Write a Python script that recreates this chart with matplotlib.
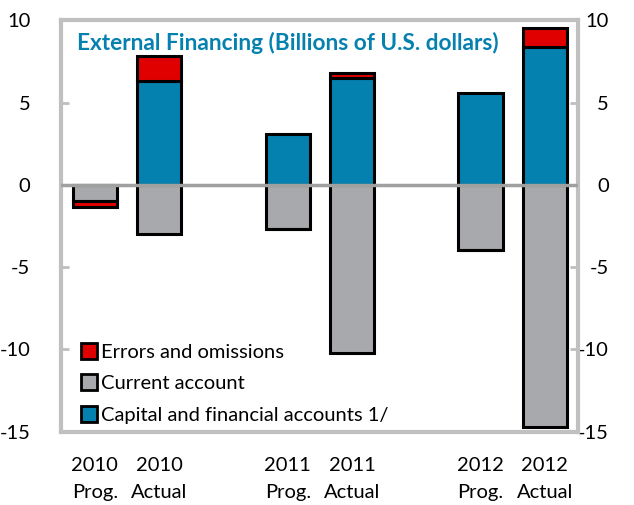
import matplotlib
matplotlib.use("Agg")
import matplotlib.pyplot as plt
from matplotlib.lines import Line2D

plt.rcParams['font.family'] = ['Lato', 'DejaVu Sans']
plt.rcParams['axes.unicode_minus'] = False

# data (billions of U.S. dollars)
labels = ["2010\nProg.", "2010\nActual", "2011\nProg.", "2011\nActual", "2012\nProg.", "2012\nActual"]
capital = [0.0, 6.3, 3.1, 6.5, 5.6, 8.4]
current = [-1.0, -3.0, -2.7, -10.2, -3.95, -14.7]
errors = [-0.35, 1.5, 0.0, 0.3, 0.0, 1.1]
xpos = [0, 1, 3, 4, 6, 7]

blue = "#0581b0"
grey = "#a7a9ac"
red = "#e00000"

fig = plt.figure(figsize=(6.34, 5.05), dpi=100)
ax = fig.add_axes([0.096, 0.145, 0.816, 0.815])

w = 0.69
lw = 2.2
ax.bar(xpos, capital, w, color=blue, edgecolor="black", linewidth=lw, zorder=3)
ax.bar(xpos, current, w, color=grey, edgecolor="black", linewidth=lw, zorder=3)
# errors stacked on the side they fall
err_bottom = [c if e > 0 else cu for e, c, cu in zip(errors, capital, current)]
ax.bar(xpos, errors, w, bottom=err_bottom, color=red, edgecolor="black", linewidth=lw, zorder=3)

ax.axhline(0, color="#a0a0a0", linewidth=2.5, zorder=4)

ax.set_xlim(-0.53, 7.52)
ax.set_ylim(-15, 10)
ax.set_yticks([-15, -10, -5, 0, 5, 10])
ax.set_xticks(xpos)
ax.set_xticklabels(labels, fontsize=14.5, linespacing=1.75)
ax.tick_params(axis="x", length=0, pad=18)
ax.tick_params(axis="y", direction="in", length=6, width=2, color="#bfbfbf",
               labelsize=14.5, pad=22, left=True, right=True, labelleft=True, labelright=True)
for lab in ax.get_yticklabels():
    lab.set_horizontalalignment("right")
for s in ax.spines.values():
    s.set_color("#c0c0c0")
    s.set_linewidth(3)

ax.text(0.031, 0.945, "External Financing (Billions of U.S. dollars)", transform=ax.transAxes,
        color=blue, fontsize=16.3, fontweight="bold", va="center", ha="left")

handles = [Line2D([], [], marker="s", linestyle="", markersize=12, markerfacecolor=c,
                  markeredgecolor="black", markeredgewidth=2)
           for c in (red, grey, blue)]
ax.legend(handles, ["Errors and omissions", "Current account", "Capital and financial accounts 1/"],
          loc="lower left", bbox_to_anchor=(0.0, -0.02), frameon=False, fontsize=14.5,
          handletextpad=0.0, labelspacing=0.72, borderaxespad=0.4, handlelength=1.2)

fig.savefig("out.png", dpi=100)
